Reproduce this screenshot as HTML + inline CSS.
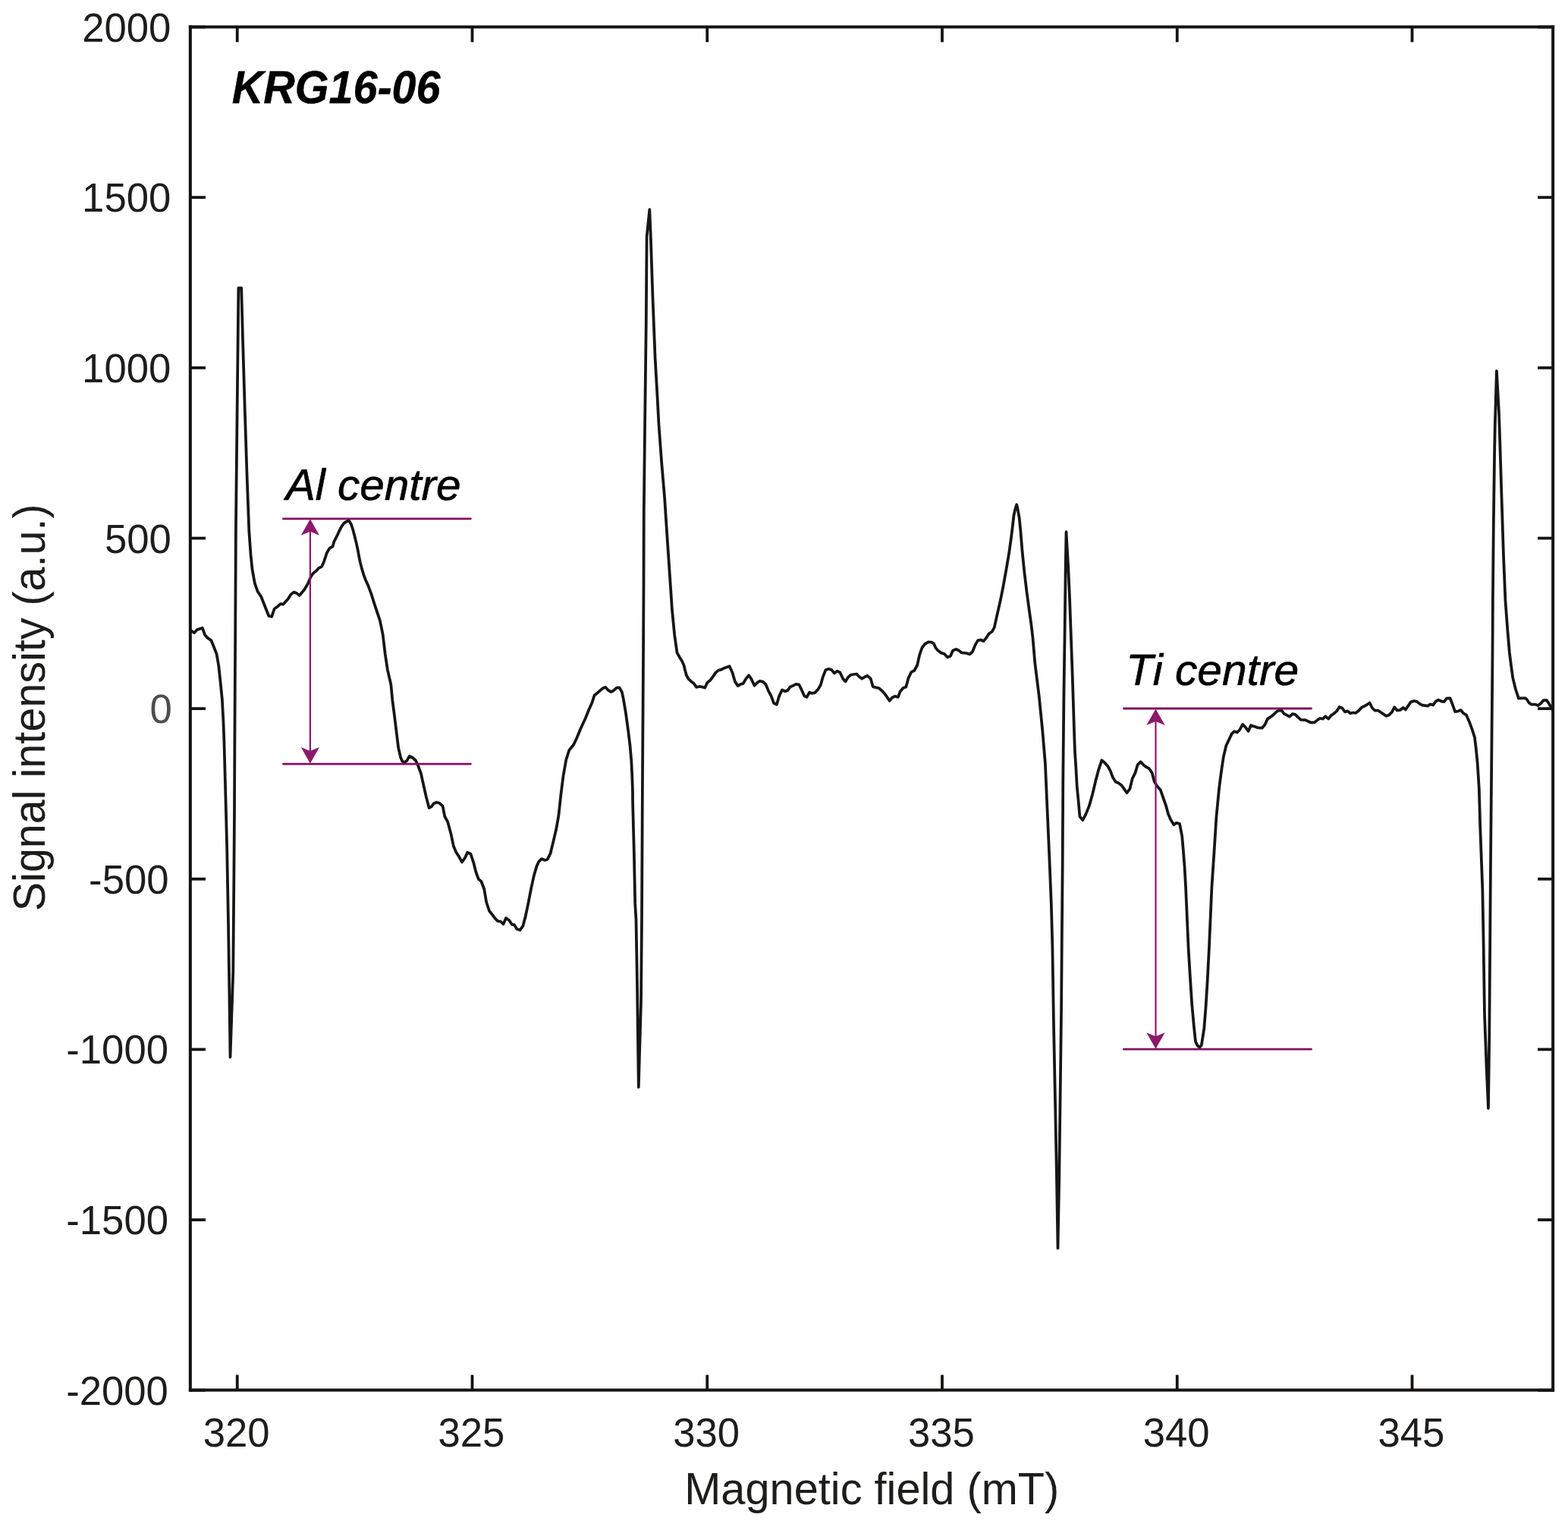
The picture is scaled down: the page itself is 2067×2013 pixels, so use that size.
<!DOCTYPE html>
<html lang="en">
<head>
<meta charset="utf-8">
<title>KRG16-06 ESR spectrum</title>
<style>
html,body{margin:0;padding:0;background:#fff;}
body{width:2067px;height:2013px;overflow:hidden;}
svg{display:block;}
text{font-family:"Liberation Sans",Arial,Helvetica,sans-serif;fill:#1d1d1b;stroke:#1d1d1b;stroke-width:0;stroke-linejoin:round;}
.an{font-style:italic;fill:#000;stroke:#000;stroke-width:0.6px;}
.ti{font-style:italic;font-weight:bold;fill:#000;stroke:#000;stroke-width:0.4px;}
</style>
</head>
<body>
<svg xmlns="http://www.w3.org/2000/svg" width="2067" height="2013" viewBox="0 0 2067 2013">
<rect width="2067" height="2013" fill="#fff"/>
<defs><clipPath id="pc"><rect x="250.85" y="35.4" width="1796.3000000000002" height="1797.1999999999998"/></clipPath></defs>
<path d="M250.7 830.4 L256.1 834.3 L259.9 830.1 L266.9 827.8 L269.9 836.6 L273.0 840.4 L278.4 844.2 L282.2 853.5 L285.7 862.7 L288.3 878.0 L290.6 899.5 L292.9 922.5 L294.5 953.2 L295.5 980.0 L297.4 1049.3 L299.2 1118.7 L300.9 1211.1 L302.3 1303.6 L303.5 1393.6 L307.3 1280.5 L308.3 1165.0 L309.0 1072.0 L309.4 980.0 L310.9 700.0 L314.4 379.5 L318.2 379.5 L320.1 450.0 L320.6 466.6 L322.9 544.3 L325.4 622.0 L328.3 700.0 L330.5 730.7 L332.5 750.6 L335.9 769.1 L339.7 779.8 L344.3 786.7 L354.3 812.0 L358.2 812.8 L361.7 802.5 L365.8 799.7 L369.7 796.2 L373.2 796.7 L379.6 789.8 L383.5 783.6 L387.3 780.6 L391.2 782.1 L394.7 784.9 L401.1 777.5 L405.7 769.8 L409.6 760.6 L412.6 756.0 L416.5 752.9 L420.3 748.8 L424.1 747.1 L427.2 739.9 L431.0 728.4 L434.9 722.3 L438.7 720.3 L440.3 714.1 L444.8 705.3 L448.6 697.1 L450.8 693.3 L453.0 690.3 L455.4 688.3 L458.0 686.9 L459.9 686.5 L461.4 688.3 L463.0 691.4 L464.9 697.1 L467.4 706.5 L469.9 716.6 L471.8 725.5 L473.1 733.0 L474.7 740.6 L476.9 749.4 L479.4 757.6 L481.9 764.5 L485.1 771.4 L489.4 782.9 L493.2 795.1 L500.9 818.2 L504.7 836.6 L507.8 862.7 L510.8 882.6 L515.4 902.6 L517.3 923.0 L520.3 946.0 L523.1 969.1 L525.2 985.9 L528.0 998.2 L530.3 1003.6 L533.4 1005.1 L536.4 1002.8 L539.8 996.7 L544.1 999.0 L548.0 1002.5 L551.0 1009.0 L554.9 1019.7 L558.7 1036.6 L561.8 1050.4 L565.6 1065.0 L568.7 1063.4 L571.7 1059.3 L575.6 1057.7 L579.4 1058.8 L583.6 1062.7 L586.3 1076.5 L590.2 1083.4 L594.4 1098.9 L598.0 1115.8 L601.3 1123.5 L605.2 1129.6 L609.0 1136.5 L612.8 1131.2 L616.2 1123.8 L620.5 1125.8 L624.3 1137.3 L627.4 1149.6 L630.8 1158.8 L634.3 1161.8 L638.2 1171.8 L641.2 1189.5 L645.1 1201.0 L648.9 1205.6 L652.7 1210.9 L656.3 1214.3 L659.6 1214.5 L663.5 1218.2 L667.0 1210.2 L671.2 1213.2 L674.7 1218.6 L678.1 1219.4 L681.4 1224.8 L685.4 1226.0 L689.3 1220.9 L692.6 1208.6 L696.5 1190.2 L700.3 1170.3 L704.1 1153.4 L707.5 1141.9 L710.3 1135.8 L714.1 1132.2 L718.3 1133.9 L721.8 1132.7 L725.6 1125.0 L729.5 1108.9 L733.3 1092.8 L736.4 1075.1 L739.4 1047.5 L742.5 1023.0 L746.3 1001.5 L750.2 989.2 L756.3 981.5 L760.5 972.5 L765.1 961.3 L771.7 947.0 L775.8 936.7 L780.4 926.5 L783.5 916.8 L789.1 912.2 L794.2 907.6 L798.1 906.0 L801.4 909.6 L805.5 912.2 L809.1 910.1 L812.6 906.9 L816.5 906.3 L819.8 912.2 L821.8 921.4 L824.9 939.8 L828.0 962.3 L830.5 982.8 L832.3 1003.2 L833.3 1023.7 L834.0 1044.1 L834.0 1054.0 L835.9 1126.2 L837.2 1190.9 L838.5 1212.4 L840.0 1298.6 L841.8 1433.1 L845.0 1320.2 L846.0 1212.4 L846.9 1040.0 L848.0 870.0 L848.5 771.7 L848.8 674.0 L850.1 560.0 L851.8 422.9 L852.6 312.1 L856.3 276.2 L857.8 312.1 L860.4 390.3 L863.6 471.7 L866.4 520.6 L868.5 560.0 L872.1 608.9 L876.2 657.7 L879.4 706.6 L882.7 755.4 L886.0 804.3 L889.2 836.9 L892.5 860.3 L896.0 866.7 L899.2 871.8 L901.5 876.9 L903.0 883.3 L904.9 890.3 L907.5 894.8 L910.7 898.0 L914.5 900.8 L918.1 905.9 L922.2 905.0 L926.0 905.7 L929.2 906.7 L932.4 899.9 L936.3 896.7 L940.1 891.6 L943.3 886.9 L947.1 883.6 L951.0 882.7 L955.4 880.4 L961.6 878.2 L965.4 886.5 L968.9 898.6 L972.7 904.1 L976.5 901.8 L979.7 901.2 L983.3 894.8 L987.2 890.3 L990.6 895.4 L994.5 903.8 L998.3 899.9 L1001.7 897.7 L1006.0 898.9 L1009.2 901.8 L1013.0 910.8 L1016.6 917.4 L1020.0 926.8 L1023.9 928.7 L1027.1 917.8 L1030.9 909.5 L1034.7 911.4 L1038.3 910.2 L1041.8 905.4 L1045.0 904.1 L1049.4 901.8 L1053.3 902.5 L1056.5 908.9 L1060.3 917.4 L1063.5 919.1 L1067.0 912.7 L1070.5 914.0 L1074.4 913.1 L1078.2 908.9 L1081.8 903.1 L1084.6 892.9 L1088.4 883.3 L1092.3 881.8 L1096.1 883.0 L1099.9 887.5 L1103.5 884.6 L1107.4 886.5 L1111.2 894.8 L1114.7 898.3 L1117.9 892.9 L1121.8 889.5 L1129.2 888.5 L1132.8 892.3 L1136.2 894.6 L1140.1 892.3 L1143.5 890.8 L1147.7 894.6 L1150.7 905.1 L1154.8 906.4 L1158.3 907.0 L1162.4 910.2 L1166.3 914.7 L1169.5 919.2 L1172.7 923.9 L1175.9 919.8 L1179.7 917.9 L1183.9 918.9 L1186.7 911.5 L1190.6 907.0 L1194.4 905.5 L1197.6 893.6 L1201.4 885.9 L1205.3 884.0 L1209.1 877.0 L1212.3 862.9 L1215.5 853.9 L1219.3 848.8 L1223.6 846.3 L1227.6 846.5 L1230.8 848.2 L1233.4 853.9 L1236.6 857.8 L1240.4 860.6 L1244.9 862.0 L1249.1 866.5 L1253.0 864.8 L1256.0 857.8 L1259.9 855.9 L1263.5 857.1 L1267.3 860.3 L1273.7 861.0 L1278.2 862.5 L1282.0 859.1 L1285.4 850.7 L1289.0 844.3 L1292.9 843.5 L1296.4 845.2 L1299.9 841.2 L1303.7 835.4 L1307.6 832.8 L1310.8 827.1 L1313.3 815.6 L1315.9 804.1 L1319.1 790.0 L1322.2 774.3 L1326.5 750.6 L1330.3 728.1 L1333.0 708.7 L1335.1 691.6 L1336.4 679.7 L1338.3 671.2 L1340.2 665.2 L1341.8 672.2 L1343.7 683.0 L1345.3 699.1 L1347.5 725.9 L1350.2 752.8 L1353.4 779.6 L1356.6 803.3 L1359.3 822.6 L1361.4 840.0 L1364.3 874.1 L1369.8 918.2 L1374.2 962.4 L1377.9 1006.5 L1380.8 1072.7 L1383.7 1138.8 L1385.9 1194.0 L1387.4 1250.0 L1389.0 1350.3 L1391.2 1460.6 L1392.9 1548.8 L1394.5 1645.5 L1396.3 1548.8 L1398.0 1416.5 L1399.1 1328.2 L1399.8 1240.0 L1400.7 1138.8 L1401.3 1028.5 L1402.4 918.2 L1403.6 835.0 L1404.7 747.4 L1405.5 701.2 L1408.2 747.4 L1410.1 790.4 L1411.9 840.0 L1413.9 896.2 L1416.2 970.0 L1417.0 991.5 L1418.4 1013.0 L1419.7 1036.6 L1421.6 1055.9 L1423.4 1076.3 L1427.2 1081.2 L1431.5 1073.1 L1435.8 1062.4 L1440.1 1047.3 L1444.4 1029.1 L1448.1 1015.1 L1452.4 1002.2 L1456.7 1006.0 L1460.5 1010.3 L1463.7 1016.2 L1466.9 1024.8 L1470.7 1030.7 L1474.5 1032.3 L1478.7 1035.5 L1482.5 1040.9 L1485.5 1045.2 L1489.5 1039.8 L1492.7 1026.4 L1496.5 1018.9 L1499.7 1008.1 L1503.7 1004.2 L1507.7 1008.7 L1511.5 1011.4 L1514.7 1013.0 L1518.5 1018.3 L1521.7 1030.2 L1525.5 1036.6 L1529.8 1041.4 L1533.0 1050.6 L1536.8 1061.3 L1540.0 1073.1 L1543.2 1080.6 L1547.3 1087.1 L1550.7 1084.9 L1555.0 1085.8 L1558.2 1102.1 L1559.8 1120.4 L1561.5 1141.9 L1563.1 1170.0 L1566.6 1250.0 L1568.9 1288.4 L1571.2 1323.7 L1574.0 1354.3 L1576.0 1373.0 L1578.2 1377.8 L1581.2 1380.7 L1583.8 1378.0 L1585.0 1370.5 L1587.3 1355.9 L1589.6 1326.7 L1591.5 1296.0 L1593.9 1250.0 L1597.4 1170.0 L1600.7 1120.4 L1603.4 1077.4 L1607.0 1040.1 L1609.6 1019.8 L1612.8 998.1 L1616.4 982.8 L1619.8 975.7 L1623.7 967.4 L1627.1 964.2 L1630.9 965.5 L1634.5 961.7 L1638.1 954.9 L1641.6 958.5 L1645.7 963.8 L1649.0 956.2 L1653.7 957.8 L1658.8 959.5 L1663.7 959.7 L1667.5 955.3 L1671.0 947.6 L1677.4 943.4 L1683.1 938.0 L1686.3 936.3 L1689.5 936.7 L1692.7 940.8 L1696.5 942.9 L1700.1 944.7 L1703.8 941.2 L1707.4 941.8 L1711.3 945.7 L1714.8 948.9 L1720.8 949.1 L1725.3 951.4 L1729.2 952.7 L1733.0 952.1 L1736.8 949.1 L1740.0 947.0 L1743.9 947.6 L1747.3 944.4 L1751.2 947.6 L1754.7 943.1 L1758.6 940.6 L1762.1 937.4 L1765.6 931.9 L1769.4 933.5 L1772.9 938.4 L1776.5 937.4 L1779.9 940.3 L1783.5 939.5 L1787.3 939.9 L1791.2 936.7 L1795.0 932.6 L1800.8 929.7 L1805.5 926.5 L1809.1 933.5 L1812.3 936.5 L1816.4 936.5 L1820.6 939.3 L1824.0 941.6 L1827.6 943.8 L1831.2 942.5 L1835.0 938.6 L1838.1 932.3 L1841.7 936.5 L1845.5 936.1 L1850.0 932.9 L1852.8 935.5 L1856.1 930.9 L1859.7 925.5 L1863.7 924.0 L1867.8 924.9 L1871.2 927.6 L1874.9 929.7 L1878.5 930.1 L1882.1 930.6 L1885.5 928.3 L1889.2 929.5 L1892.4 924.9 L1896.1 922.7 L1899.7 924.3 L1903.6 925.1 L1907.0 920.6 L1911.5 920.3 L1914.9 929.1 L1918.1 938.2 L1922.1 937.6 L1925.8 936.1 L1928.8 940.0 L1933.0 942.7 L1936.7 950.9 L1940.3 960.6 L1944.0 972.1 L1945.8 987.3 L1947.6 1005.5 L1948.8 1023.7 L1949.8 1040.0 L1951.2 1089.1 L1954.3 1171.8 L1955.6 1242.8 L1957.0 1337.3 L1959.6 1408.3 L1962.0 1461.1 L1963.3 1361.0 L1964.2 1242.8 L1964.9 1148.2 L1966.0 1030.0 L1967.5 860.0 L1967.9 791.3 L1968.8 694.2 L1970.1 597.1 L1970.8 560.0 L1972.9 489.0 L1976.0 545.0 L1977.1 577.7 L1979.5 655.3 L1982.0 733.0 L1984.4 791.3 L1987.3 830.1 L1989.8 860.0 L1991.8 875.8 L1994.3 893.9 L1997.9 908.5 L2001.9 920.6 L2005.8 920.3 L2010.6 920.3 L2013.1 922.4 L2015.5 926.4 L2018.5 928.5 L2023.4 928.5 L2027.6 930.1 L2031.2 927.3 L2034.9 923.0 L2038.8 923.0 L2042.1 927.9 L2045.8 933.9 L2047.4 937.6" fill="none" stroke="#171614" stroke-width="3.75" stroke-linejoin="round" stroke-linecap="round" clip-path="url(#pc)"/>
<g stroke="#8b1a6b" fill="none"><line x1="373.4" y1="683.8" x2="620.4" y2="683.8" stroke="#820f63" stroke-width="2.8" stroke-linecap="round"/><line x1="373.4" y1="1007.1" x2="620.4" y2="1007.1" stroke="#820f63" stroke-width="2.8" stroke-linecap="round"/><line x1="408.9" y1="695.8" x2="408.9" y2="995.1" stroke-width="2.2"/></g><path d="M408.9 684.3 L421.09999999999997 705.8 L408.9 700.8 L396.7 705.8 Z" fill="#8b1a6b"/><path d="M408.9 1006.6 L421.09999999999997 985.1 L408.9 990.1 L396.7 985.1 Z" fill="#8b1a6b"/>
<g stroke="#8b1a6b" fill="none"><line x1="1481.4" y1="934.0" x2="1728.5" y2="934.0" stroke="#820f63" stroke-width="2.8" stroke-linecap="round"/><line x1="1481.4" y1="1383.2" x2="1728.5" y2="1383.2" stroke="#820f63" stroke-width="2.8" stroke-linecap="round"/><line x1="1523.5" y1="946.0" x2="1523.5" y2="1371.2" stroke-width="2.2"/></g><path d="M1523.5 934.5 L1535.7 956.0 L1523.5 951.0 L1511.3 956.0 Z" fill="#8b1a6b"/><path d="M1523.5 1382.7 L1535.7 1361.2 L1523.5 1366.2 L1511.3 1361.2 Z" fill="#8b1a6b"/>
<g stroke="#141311" fill="none" stroke-linecap="square"><line x1="250.85" y1="35.4" x2="2047.15" y2="35.4" stroke-width="4"/><line x1="250.85" y1="1832.6" x2="2047.15" y2="1832.6" stroke-width="4"/><line x1="250.85" y1="35.4" x2="250.85" y2="1832.6" stroke-width="4"/><line x1="2047.15" y1="35.4" x2="2047.15" y2="1832.6" stroke-width="4"/></g>
<g stroke="#141311" stroke-width="3.8" fill="none"><line x1="312.75" y1="35.4" x2="312.75" y2="55.5"/><line x1="312.75" y1="1832.6" x2="312.75" y2="1812.5"/><line x1="622.50" y1="35.4" x2="622.50" y2="55.5"/><line x1="622.50" y1="1832.6" x2="622.50" y2="1812.5"/><line x1="932.25" y1="35.4" x2="932.25" y2="55.5"/><line x1="932.25" y1="1832.6" x2="932.25" y2="1812.5"/><line x1="1242.00" y1="35.4" x2="1242.00" y2="55.5"/><line x1="1242.00" y1="1832.6" x2="1242.00" y2="1812.5"/><line x1="1551.75" y1="35.4" x2="1551.75" y2="55.5"/><line x1="1551.75" y1="1832.6" x2="1551.75" y2="1812.5"/><line x1="1861.50" y1="35.4" x2="1861.50" y2="55.5"/><line x1="1861.50" y1="1832.6" x2="1861.50" y2="1812.5"/><line x1="250.85" y1="1832.71" x2="270.95" y2="1832.71"/><line x1="2047.15" y1="1832.71" x2="2027.0500000000002" y2="1832.71"/><line x1="250.85" y1="1608.07" x2="270.95" y2="1608.07"/><line x1="2047.15" y1="1608.07" x2="2027.0500000000002" y2="1608.07"/><line x1="250.85" y1="1383.43" x2="270.95" y2="1383.43"/><line x1="2047.15" y1="1383.43" x2="2027.0500000000002" y2="1383.43"/><line x1="250.85" y1="1158.79" x2="270.95" y2="1158.79"/><line x1="2047.15" y1="1158.79" x2="2027.0500000000002" y2="1158.79"/><line x1="250.85" y1="934.15" x2="270.95" y2="934.15"/><line x1="2047.15" y1="934.15" x2="2027.0500000000002" y2="934.15"/><line x1="250.85" y1="709.51" x2="270.95" y2="709.51"/><line x1="2047.15" y1="709.51" x2="2027.0500000000002" y2="709.51"/><line x1="250.85" y1="484.87" x2="270.95" y2="484.87"/><line x1="2047.15" y1="484.87" x2="2027.0500000000002" y2="484.87"/><line x1="250.85" y1="260.23" x2="270.95" y2="260.23"/><line x1="2047.15" y1="260.23" x2="2027.0500000000002" y2="260.23"/><line x1="250.85" y1="35.59" x2="270.95" y2="35.59"/><line x1="2047.15" y1="35.59" x2="2027.0500000000002" y2="35.59"/></g>
<text transform="translate(267.63,1907.31) scale(0.9815,0.9855)" font-size="53.7">320</text>
<text transform="translate(577.44,1907.31) scale(0.9815,0.9855)" font-size="53.7">325</text>
<text transform="translate(887.13,1907.31) scale(0.9815,0.9855)" font-size="53.7">330</text>
<text transform="translate(1196.94,1907.31) scale(0.9815,0.9855)" font-size="53.7">335</text>
<text transform="translate(1506.63,1907.31) scale(0.9815,0.9855)" font-size="53.7">340</text>
<text transform="translate(1816.44,1907.31) scale(0.9815,0.9855)" font-size="53.7">345</text>
<text transform="translate(87.16,1851.72) scale(0.9815,0.9855)" font-size="53.7">-2000</text>
<text transform="translate(87.26,1627.08) scale(0.9815,0.9855)" font-size="53.7">-1500</text>
<text transform="translate(87.26,1402.44) scale(0.9815,0.9855)" font-size="53.7">-1000</text>
<text transform="translate(117.08,1177.80) scale(0.9815,0.9855)" font-size="53.7">-500</text>
<text transform="translate(197.56,953.16) scale(0.9815,0.9855)" font-size="53.7" style="fill:#4d4d4d;stroke:#4d4d4d">0</text>
<text transform="translate(137.92,728.52) scale(0.9815,0.9855)" font-size="53.7">500</text>
<text transform="translate(108.10,503.88) scale(0.9815,0.9855)" font-size="53.7">1000</text>
<text transform="translate(108.10,279.24) scale(0.9815,0.9855)" font-size="53.7">1500</text>
<text transform="translate(108.20,54.60) scale(0.9815,0.9855)" font-size="53.7">2000</text>
<text transform="translate(902.23,1982.80) scale(1.0042,1.0380)" font-size="57.5">Magnetic field (mT)</text>
<text transform="translate(58.5,932.8) rotate(-90) scale(1,1.038)" font-size="57.5" text-anchor="middle">Signal intensity (a.u.)</text>
<text class="ti" transform="translate(305.81,135.94) scale(0.9910,1.0602)" font-size="58">KRG16-06</text>
<text class="an" transform="translate(376.70,659.30) scale(1.0090,1.0000)" font-size="58">Al centre</text>
<text class="an" transform="translate(1484.28,903.00) scale(1.0126,1.0000)" font-size="58">Ti centre</text>
</svg>
</body>
</html>
